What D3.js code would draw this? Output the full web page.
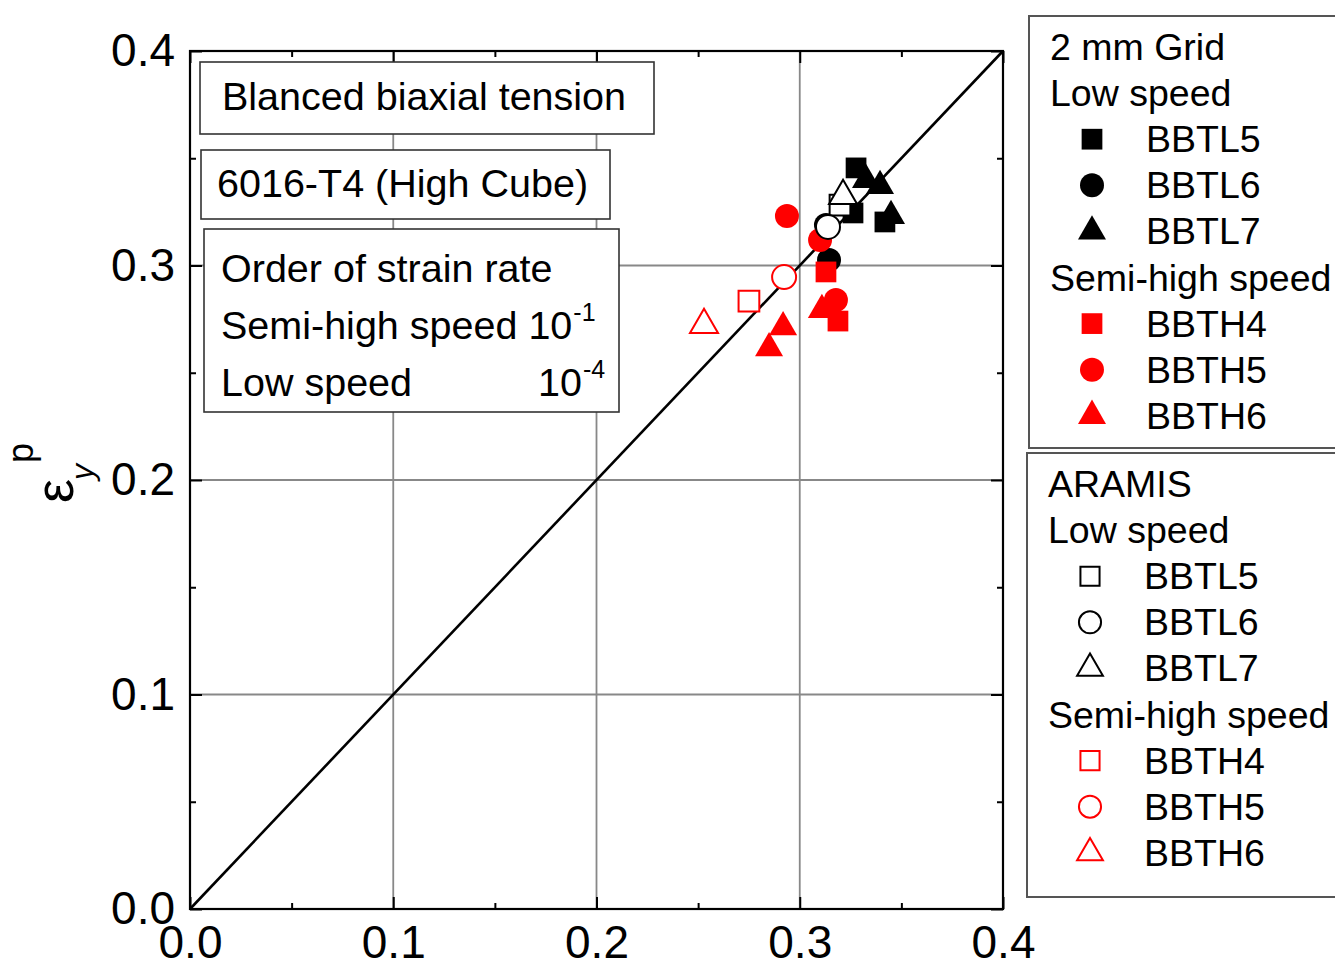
<!DOCTYPE html>
<html>
<head>
<meta charset="utf-8">
<script src="https://cdn.jsdelivr.net/npm/d3@7"></script>
<style>
  body { margin: 0; background: #fff; }
  text { font-family: "Liberation Sans", Arial, sans-serif; }
</style>
</head>
<body>
<div id="chart"></div>
<script>
// axis ticks
var xTicks = [0.0, 0.1, 0.2, 0.3, 0.4];
var yTicks = [0.0, 0.1, 0.2, 0.3, 0.4];
var minorTicks = [0.05, 0.15, 0.25, 0.35];

// 2 mm grid - low speed  [eps_x, eps_y]
var gridBBTL5 = [[0.3277, 0.3455], [0.3419, 0.3203], [0.3262, 0.3245]];
var gridBBTL6 = [[0.3129, 0.3189], [0.3144, 0.3026]];
var gridBBTL7 = [[0.3326, 0.3399], [0.3395, 0.3371], [0.3449, 0.3231]];
// 2 mm grid - semi-high speed
var gridBBTH4 = [[0.3129, 0.2970], [0.3188, 0.2741]];
var gridBBTH5 = [[0.2937, 0.3231], [0.3100, 0.3119], [0.3178, 0.2839]];
var gridBBTH6 = [[0.2918, 0.2713], [0.2849, 0.2615], [0.3109, 0.2793]];
// ARAMIS
var aramisBBTL5 = [[0.3198, 0.3282]];
var aramisBBTL6 = [[0.3139, 0.3180]];
var aramisBBTL7 = [[0.3213, 0.3324]];
var aramisBBTH4 = [[0.2750, 0.2834]];
var aramisBBTH5 = [[0.2923, 0.2946]];
var aramisBBTH6 = [[0.2529, 0.2723]];

var legendLabels = ["BBTL5", "BBTL6", "BBTL7", "BBTH4", "BBTH5", "BBTH6"];

var RED = "#ff0000";
var sq = d3.symbolSquare, ci = d3.symbolCircle, tr = d3.symbolTriangle;
var sizes = { sq: 430, ci: 452, tr: 340 };

var gridSeries = [
  { data: gridBBTL5, color: "#000", shape: sq, size: sizes.sq },
  { data: gridBBTL6, color: "#000", shape: ci, size: sizes.ci },
  { data: gridBBTL7, color: "#000", shape: tr, size: sizes.tr },
  { data: gridBBTH4, color: RED, shape: sq, size: sizes.sq },
  { data: gridBBTH5, color: RED, shape: ci, size: sizes.ci },
  { data: gridBBTH6, color: RED, shape: tr, size: sizes.tr }
];
var aramisSeries = [
  { data: aramisBBTL5, color: "#000", shape: sq, size: sizes.sq },
  { data: aramisBBTL6, color: "#000", shape: ci, size: sizes.ci },
  { data: aramisBBTL7, color: "#000", shape: tr, size: sizes.tr },
  { data: aramisBBTH4, color: RED, shape: sq, size: sizes.sq },
  { data: aramisBBTH5, color: RED, shape: ci, size: sizes.ci },
  { data: aramisBBTH6, color: RED, shape: tr, size: sizes.tr }
];

var BOX_FONT = 39.5, LEG_FONT = 37.5, TICK_FONT = 46;

var svg = d3.select("#chart")
  .append("svg")
    .attr("width", 1335)
    .attr("height", 967);

var x = d3.scaleLinear().domain([0, 0.4]).range([190, 1003]);
var y = d3.scaleLinear().domain([0, 0.4]).range([909, 51]);

// grid lines
svg.append("g")
  .selectAll("line")
  .data(xTicks.slice(1, -1))
  .enter().append("line")
    .attr("x1", function (d) { return x(d); })
    .attr("x2", function (d) { return x(d); })
    .attr("y1", y(0)).attr("y2", y(0.4))
    .attr("stroke", "#888").attr("stroke-width", 1.8);
svg.append("g")
  .selectAll("line")
  .data(yTicks.slice(1, -1))
  .enter().append("line")
    .attr("y1", function (d) { return y(d); })
    .attr("y2", function (d) { return y(d); })
    .attr("x1", x(0)).attr("x2", x(0.4))
    .attr("stroke", "#888").attr("stroke-width", 1.8);

// axes (inward ticks)
var fmt = d3.format(".1f");
function styleAxis(g) {
  g.select(".domain").remove();
  g.selectAll("line").attr("stroke", "#000").attr("stroke-width", 2);
  g.selectAll("text").attr("font-size", TICK_FONT).attr("fill", "#000")
    .attr("font-family", "'Liberation Sans', Arial, sans-serif");
}
svg.append("g")
  .attr("transform", "translate(0," + y(0) + ")")
  .call(d3.axisBottom(x).tickValues(xTicks).tickSize(-12).tickPadding(16).tickFormat(fmt))
  .call(styleAxis);
svg.append("g")
  .attr("transform", "translate(" + x(0) + ",0)")
  .call(d3.axisLeft(y).tickValues(yTicks).tickSize(-12).tickPadding(15).tickFormat(fmt))
  .call(styleAxis);
svg.append("g")
  .attr("transform", "translate(0," + y(0.4) + ")")
  .call(d3.axisTop(x).tickValues(xTicks).tickSize(-12).tickFormat(""))
  .call(styleAxis);
svg.append("g")
  .attr("transform", "translate(" + x(0.4) + ",0)")
  .call(d3.axisRight(y).tickValues(yTicks).tickSize(-12).tickFormat(""))
  .call(styleAxis);
// minor ticks
svg.append("g").attr("transform", "translate(0," + y(0) + ")")
  .call(d3.axisBottom(x).tickValues(minorTicks).tickSize(-6).tickFormat("")).call(styleAxis);
svg.append("g").attr("transform", "translate(0," + y(0.4) + ")")
  .call(d3.axisTop(x).tickValues(minorTicks).tickSize(-6).tickFormat("")).call(styleAxis);
svg.append("g").attr("transform", "translate(" + x(0) + ",0)")
  .call(d3.axisLeft(y).tickValues(minorTicks).tickSize(-6).tickFormat("")).call(styleAxis);
svg.append("g").attr("transform", "translate(" + x(0.4) + ",0)")
  .call(d3.axisRight(y).tickValues(minorTicks).tickSize(-6).tickFormat("")).call(styleAxis);

// frame
svg.append("rect")
  .attr("x", x(0)).attr("y", y(0.4))
  .attr("width", x(0.4) - x(0)).attr("height", y(0) - y(0.4))
  .attr("fill", "none").attr("stroke", "#000").attr("stroke-width", 2.2);

// 1:1 line
svg.append("line")
  .attr("x1", x(0)).attr("y1", y(0))
  .attr("x2", x(0.4)).attr("y2", y(0.4))
  .attr("stroke", "#000").attr("stroke-width", 2.6);

// y label
var yl = svg.append("g").attr("transform", "translate(73,503) rotate(-90)");
yl.append("text").attr("x", 0).attr("y", 0)
  .attr("font-family", "'Liberation Serif', 'Times New Roman', serif")
  .attr("font-size", 54).text("\u03b5");
yl.append("text").attr("x", 23).attr("y", 20)
  .attr("font-family", "'Liberation Serif', 'Times New Roman', serif")
  .attr("font-style", "italic").attr("font-size", 32).text("y");
yl.append("text").attr("x", 40).attr("y", -40)
  .attr("font-size", 36).text("p");

// text boxes
function box(x0, y0, w, h) {
  svg.append("rect").attr("x", x0).attr("y", y0).attr("width", w).attr("height", h)
    .attr("fill", "#fff").attr("stroke", "#333").attr("stroke-width", 1.6);
}
function line(tx, ty, str, sup) {
  var t = svg.append("text").attr("x", tx).attr("y", ty).attr("font-size", BOX_FONT);
  t.append("tspan").text(str);
  if (sup) t.append("tspan").attr("dy", -18).attr("dx", 1).attr("font-size", 25).text(sup);
}
box(200, 62, 454, 72);
line(222, 110, "Blanced biaxial tension");
box(201, 150, 409, 69);
line(217, 197, "6016-T4 (High Cube)");
box(204, 229, 415, 183);
line(221, 282, "Order of strain rate");
line(221, 339, "Semi-high speed 10", "-1");
line(221, 396, "Low speed");
line(538, 396, "10", "-4");

// markers
var symbolGen = d3.symbol();
function drawMarkers(list, open) {
  list.forEach(function (s) {
    svg.append("g")
      .selectAll("path")
      .data(s.data)
      .enter()
      .append("path")
        .attr("transform", function (d) { return "translate(" + x(d[0]) + "," + y(d[1]) + ")"; })
        .attr("d", symbolGen.type(s.shape).size(s.size)())
        .attr("fill", open ? "#fff" : s.color)
        .attr("stroke", open ? s.color : "none")
        .attr("stroke-width", 2);
  });
}
drawMarkers(gridSeries, false);
drawMarkers(aramisSeries, true);

// legends
function legend(y0, h, title, list, open, ox) {
  svg.append("rect").attr("x", ox - 21).attr("y", y0).attr("width", 400).attr("height", h)
    .attr("fill", "#fff").attr("stroke", "#555").attr("stroke-width", 2);
  var base = y0 + 44, step = 46.1;
  var rows = [title, "Low speed", 0, 1, 2, "Semi-high speed", 3, 4, 5];
  rows.forEach(function (r, i) {
    var by = base + i * step;
    if (typeof r === "string") {
      svg.append("text").attr("x", ox).attr("y", by).attr("font-size", LEG_FONT).text(r);
    } else {
      var s = list[r];
      svg.append("path")
        .attr("transform", "translate(" + (ox + 42) + "," + (by - 13) + ")")
        .attr("d", symbolGen.type(s.shape).size(open ? s.size * 0.85 : s.size)())
        .attr("fill", open ? "#fff" : s.color)
        .attr("stroke", open ? s.color : "none")
        .attr("stroke-width", 2);
      svg.append("text").attr("x", ox + 96).attr("y", by).attr("font-size", LEG_FONT).text(legendLabels[r]);
    }
  });
}
legend(16, 432, "2 mm Grid", gridSeries, false, 1050);
legend(453, 444, "ARAMIS", aramisSeries, true, 1048);
</script>
</body>
</html>
